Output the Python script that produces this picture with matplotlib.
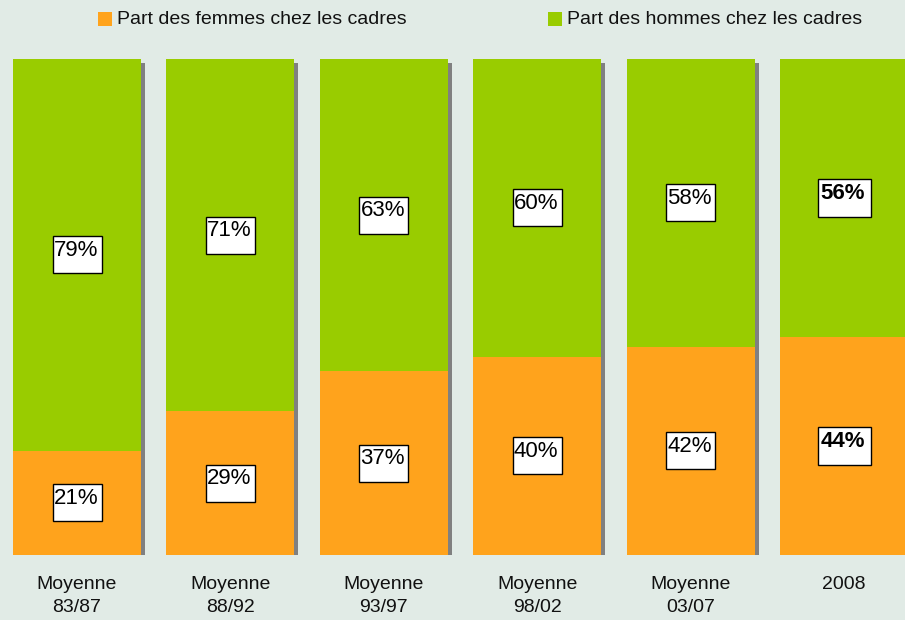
import numpy as np
import matplotlib
matplotlib.use('Agg')
import matplotlib.pyplot as plt
from matplotlib.patches import Rectangle
from matplotlib.transforms import ScaledTranslation, offset_copy

plt.rcParams['font.family'] = ['Liberation Sans', 'DejaVu Sans']

periodes = ['Moyenne\n83/87', 'Moyenne\n88/92', 'Moyenne\n93/97',
            'Moyenne\n98/02', 'Moyenne\n03/07', '2008']
femmes = [21, 29, 37, 40, 42, 44]
hommes = [79, 71, 63, 60, 58, 56]
gras = [False, False, False, False, False, True]

c_fem = '#FFA31C'
c_hom = '#99CC00'
fond = '#E1EBE6'

fig = plt.figure(figsize=(9.05, 6.2), dpi=100, facecolor=fond)
ax = fig.add_axes([0, 65 / 620, 1, 496 / 620])
ax.set_facecolor('none')

x = np.arange(len(periodes))
larg = 128 / 153.4
total = np.array(femmes) + np.array(hommes)

# ombre grise decalee
ombre = offset_copy(ax.transData, fig=fig, x=4, y=-4, units='dots')
ax.bar(x, total, width=larg, color='#808080', transform=ombre, zorder=1)
ax.bar(x, femmes, width=larg, color=c_fem, zorder=2)
ax.bar(x, hommes, bottom=femmes, width=larg, color=c_hom, zorder=2)

ax.set_xlim(-77 / 153.4, (905 - 77) / 153.4)
ax.set_ylim(0, 100)

def etiquette(xc, yc, txt, bold):
    w = 0.53 if bold else 0.49
    h = 0.38 if bold else 0.37
    tr = fig.dpi_scale_trans + ScaledTranslation(xc, yc, ax.transData)
    ax.add_patch(Rectangle((-w / 2, -h / 2), w, h, transform=tr,
                           facecolor='white', edgecolor='black', lw=1.0,
                           zorder=4, clip_on=False))
    ax.text(-0.01, -0.01, txt, transform=tr, ha='center', va='baseline',
            fontsize=16, fontweight='bold' if bold else 'normal',
            color='black', zorder=5)

for i in range(len(periodes)):
    etiquette(x[i], femmes[i] / 2, f'{femmes[i]}%', gras[i])
    etiquette(x[i], femmes[i] + hommes[i] / 2, f'{hommes[i]}%', gras[i])

ax.set_xticks(x)
ax.set_xticklabels(periodes, fontsize=14, color='#111111', linespacing=1.45)
ax.tick_params(axis='x', length=0, pad=15)
ax.set_yticks([])
for s in ax.spines.values():
    s.set_visible(False)

# legende
leg = [('Part des femmes chez les cadres', c_fem, 98),
       ('Part des hommes chez les cadres', c_hom, 548)]
for txt, col, px in leg:
    fig.patches.append(Rectangle((px / 905, (620 - 26) / 620), 14 / 905, 14 / 620,
                                 transform=fig.transFigure, facecolor=col,
                                 edgecolor='none'))
    fig.text((px + 19) / 905, (620 - 19) / 620, txt, fontsize=14,
             color='#111111', va='center', ha='left')

fig.savefig('out.png', dpi=100, facecolor=fond)
